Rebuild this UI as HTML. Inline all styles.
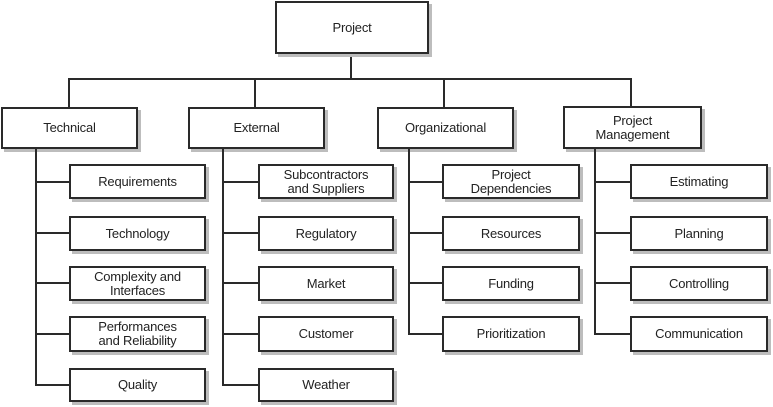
<!DOCTYPE html>
<html><head><style>
body{margin:0;width:773px;height:407px;background:#fff;position:relative;overflow:hidden;font-family:"Liberation Sans",sans-serif;}
.b{position:absolute;box-sizing:border-box;border:2px solid #2a2a2a;background:#fff;box-shadow:3px 3px 0 #bdbdbd;display:flex;align-items:center;justify-content:center;text-align:center;font-size:13px;line-height:14px;color:#222;letter-spacing:-0.2px}
.h{position:absolute;height:2px;background:#2a2a2a}
.v{position:absolute;width:2px;background:#2a2a2a}
</style></head><body>
<div class="v" style="left:350px;top:52px;height:28px"></div>
<div class="h" style="left:68px;top:78px;width:564px"></div>
<div class="v" style="left:68px;top:78px;height:30px"></div>
<div class="v" style="left:254px;top:78px;height:30px"></div>
<div class="v" style="left:443px;top:78px;height:30px"></div>
<div class="v" style="left:630px;top:78px;height:30px"></div>

<div class="b" style="left:275px;top:1px;width:154px;height:53px">Project</div>
<div class="b" style="left:1px;top:107px;width:137px;height:42px">Technical</div>
<div class="b" style="left:188px;top:107px;width:137px;height:42px">External</div>
<div class="b" style="left:377px;top:107px;width:137px;height:42px">Organizational</div>
<div class="b" style="left:563px;top:106px;width:139px;height:43px">Project<br>Management</div>

<!-- verticals -->
<div class="v" style="left:35px;top:148px;height:237px"></div>
<div class="v" style="left:222px;top:148px;height:237px"></div>
<div class="v" style="left:408px;top:148px;height:187px"></div>
<div class="v" style="left:594px;top:148px;height:187px"></div>

<!-- horizontals -->
<div class="h" style="left:35px;top:181px;width:35px"></div>
<div class="h" style="left:35px;top:232px;width:35px"></div>
<div class="h" style="left:35px;top:282px;width:35px"></div>
<div class="h" style="left:35px;top:333px;width:35px"></div>
<div class="h" style="left:35px;top:384px;width:35px"></div>
<div class="h" style="left:222px;top:181px;width:37px"></div>
<div class="h" style="left:222px;top:232px;width:37px"></div>
<div class="h" style="left:222px;top:282px;width:37px"></div>
<div class="h" style="left:222px;top:333px;width:37px"></div>
<div class="h" style="left:222px;top:384px;width:37px"></div>
<div class="h" style="left:408px;top:181px;width:35px"></div>
<div class="h" style="left:408px;top:232px;width:35px"></div>
<div class="h" style="left:408px;top:282px;width:35px"></div>
<div class="h" style="left:408px;top:333px;width:35px"></div>
<div class="h" style="left:594px;top:181px;width:37px"></div>
<div class="h" style="left:594px;top:232px;width:37px"></div>
<div class="h" style="left:594px;top:282px;width:37px"></div>
<div class="h" style="left:594px;top:333px;width:37px"></div>

<div class="b" style="left:69px;top:164px;width:137px;height:35px">Requirements</div>
<div class="b" style="left:69px;top:216px;width:137px;height:35px">Technology</div>
<div class="b" style="left:69px;top:266px;width:137px;height:35px">Complexity and<br>Interfaces</div>
<div class="b" style="left:69px;top:316px;width:137px;height:36px">Performances<br>and Reliability</div>
<div class="b" style="left:69px;top:368px;width:137px;height:34px">Quality</div>

<div class="b" style="left:258px;top:164px;width:136px;height:35px">Subcontractors<br>and Suppliers</div>
<div class="b" style="left:258px;top:216px;width:136px;height:35px">Regulatory</div>
<div class="b" style="left:258px;top:266px;width:136px;height:35px">Market</div>
<div class="b" style="left:258px;top:316px;width:136px;height:36px">Customer</div>
<div class="b" style="left:258px;top:368px;width:136px;height:34px">Weather</div>

<div class="b" style="left:442px;top:164px;width:138px;height:35px">Project<br>Dependencies</div>
<div class="b" style="left:442px;top:216px;width:138px;height:35px">Resources</div>
<div class="b" style="left:442px;top:266px;width:138px;height:35px">Funding</div>
<div class="b" style="left:442px;top:316px;width:138px;height:36px">Prioritization</div>

<div class="b" style="left:630px;top:164px;width:138px;height:35px">Estimating</div>
<div class="b" style="left:630px;top:216px;width:138px;height:35px">Planning</div>
<div class="b" style="left:630px;top:266px;width:138px;height:35px">Controlling</div>
<div class="b" style="left:630px;top:316px;width:138px;height:36px">Communication</div>
</body></html>
